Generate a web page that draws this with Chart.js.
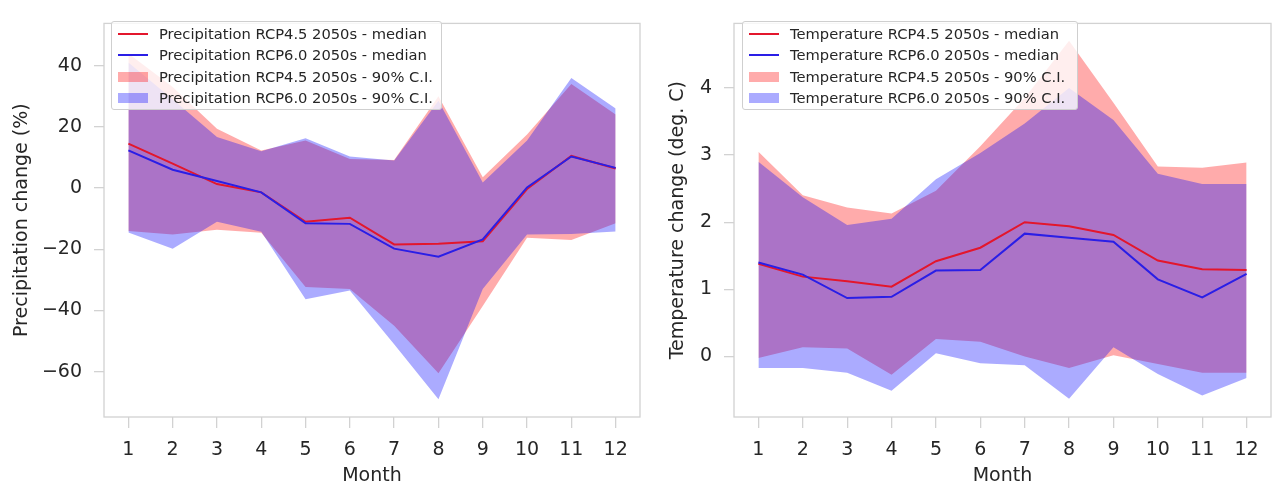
<!DOCTYPE html>
<html>
<head>
<meta charset="utf-8">
<script src="https://cdn.jsdelivr.net/npm/chart.js@4.4.0/dist/chart.umd.min.js"></script>
<style>
  html, body { margin: 0; padding: 0; background: #fff; }
  body { width: 1273px; height: 485px; position: relative; overflow: hidden; font-family: "DejaVu Sans", sans-serif; }
  canvas { position: absolute; top: 0; }
  #precipChart { left: 0; }
  #tempChart { left: 642px; }
  .legend { position: absolute; top: 21px; height: 89px; box-sizing: border-box; background: rgba(255,255,255,0.8);
            border: 1px solid #cfcfcf; border-radius: 3px; font-size: 14.7px; color: #262626; padding-top: 1px; }
  .legend .row { position: relative; height: 21.4px; line-height: 21.4px; padding-left: 47px; white-space: nowrap; }
  .legend .handle { position: absolute; left: 6px; width: 30px; }
</style>
</head>
<body>
<canvas id="precipChart" width="642" height="485"></canvas>
<canvas id="tempChart" width="631" height="485"></canvas>
<div class="legend" id="precipLegend" style="left:111px;width:331px"></div>
<div class="legend" id="tempLegend" style="left:742px;width:336px"></div>
<script>
const months = [1, 2, 3, 4, 5, 6, 7, 8, 9, 10, 11, 12];

// precipitation change (%)
const precip45Median = [14.5, 8, 1.3, -1.4, -11, -9.7, -18.4, -18.2, -17.4, -0.3, 10.5, 6.4];
const precip60Median = [12.3, 6, 2.3, -1.4, -11.5, -11.7, -19.8, -22.4, -16.8, 0.2, 10.3, 6.6];
const precip45Upper = [44, 33, 19.4, 12.3, 15.5, 9.5, 9.2, 30, 3.5, 17.5, 34, 24];
const precip45Lower = [-14, -15.2, -13.6, -14.6, -32.3, -33, -45, -60.5, -38.5, -16.2, -17, -11.5];
const precip60Upper = [41, 29, 16.7, 12, 16.3, 10.3, 9, 28.5, 1.8, 15.5, 36, 26];
const precip60Lower = [-14.5, -19.8, -11, -14.3, -36.3, -33.5, -51, -69, -33, -15.2, -15, -14.2];
const precipTicks = [-60, -40, -20, 0, 20, 40];

// temperature change (deg. C)
const temp45Median = [1.38, 1.19, 1.12, 1.04, 1.42, 1.62, 2.0, 1.94, 1.81, 1.43, 1.30, 1.29];
const temp60Median = [1.40, 1.22, 0.87, 0.89, 1.28, 1.29, 1.83, 1.77, 1.71, 1.15, 0.88, 1.23];
const temp45Upper = [3.05, 2.4, 2.22, 2.13, 2.47, 3.13, 3.85, 4.7, 3.78, 2.83, 2.81, 2.89];
const temp45Lower = [-0.02, 0.14, 0.12, -0.27, 0.26, 0.22, 0.0, -0.17, 0.02, -0.11, -0.24, -0.24];
const temp60Upper = [2.9, 2.37, 1.96, 2.05, 2.64, 3.03, 3.47, 4.0, 3.52, 2.72, 2.57, 2.57];
const temp60Lower = [-0.17, -0.17, -0.24, -0.51, 0.05, -0.1, -0.13, -0.63, 0.14, -0.26, -0.58, -0.32];
const tempTicks = [0, 1, 2, 3, 4];

const precipLabels = ['Precipitation RCP4.5 2050s - median', 'Precipitation RCP6.0 2050s - median',
                      'Precipitation RCP4.5 2050s - 90% C.I.', 'Precipitation RCP6.0 2050s - 90% C.I.'];
const tempLabels = ['Temperature RCP4.5 2050s - median', 'Temperature RCP6.0 2050s - median',
                    'Temperature RCP4.5 2050s - 90% C.I.', 'Temperature RCP6.0 2050s - 90% C.I.'];

const redLine = '#e3162c';
const blueLine = '#2a1ee6';
const redFill = 'rgba(255,0,0,0.33)';
const blueFill = 'rgba(0,0,255,0.33)';
const textColor = '#262626';
const spineColor = '#d2d2d2';
const fontFamily = '"DejaVu Sans", sans-serif';

const toPoints = vals => vals.map((v, i) => ({ x: months[i], y: v }));
const minusFormat = v => (v < 0 ? '\u2212' + Math.abs(v) : String(v));

const frame = {
    id: 'frame',
    beforeDatasetsDraw(chart) {
        const { ctx, chartArea: a } = chart;
        ctx.save();
        ctx.strokeStyle = spineColor;
        ctx.lineWidth = 1.3;
        ctx.strokeRect(a.left, a.top, a.right - a.left, a.bottom - a.top);
        ctx.restore();
    }
};

function lineSet(vals, color, order) {
    return { data: toPoints(vals), borderColor: color, borderWidth: 2, pointRadius: 0, tension: 0, fill: false, order: order };
}

function bandSets(lower, upper, color, order) {
    return [
        { data: toPoints(lower), borderColor: 'transparent', borderWidth: 0, pointRadius: 0, tension: 0, fill: false, order: 5 },
        { data: toPoints(upper), borderColor: 'transparent', borderWidth: 0, pointRadius: 0, tension: 0,
          fill: '-1', backgroundColor: color, order: order }
    ];
}

function makeChart(id, sets, yMin, yMax, yTicks, yTitle, axisWidth, titlePad) {
    return new Chart(document.getElementById(id), {
        type: 'line',
        data: {
            datasets: [
                lineSet(sets.med60, blueLine, 0),
                lineSet(sets.med45, redLine, 1),
                ...bandSets(sets.lo60, sets.hi60, blueFill, 2),
                ...bandSets(sets.lo45, sets.hi45, redFill, 3)
            ]
        },
        options: {
            responsive: false,
            animation: false,
            layout: { padding: { top: 14, right: 2, left: 0, bottom: 0 } },
            plugins: { legend: { display: false }, tooltip: { enabled: false } },
            scales: {
                x: {
                    type: 'linear', min: 0.45, max: 12.55,
                    afterBuildTicks: s => { s.ticks = months.map(v => ({ value: v })); },
                    afterFit: s => { s.height = 68; },
                    grid: { drawOnChartArea: false, drawTicks: true, tickLength: 11, color: spineColor, lineWidth: 1.3 },
                    border: { display: false },
                    ticks: { autoSkip: false, maxRotation: 0, color: textColor, padding: 11,
                             font: { family: fontFamily, size: 19 } },
                    title: { display: true, text: 'Month', color: textColor, padding: { top: 0, bottom: 0 },
                             font: { family: fontFamily, size: 19, lineHeight: 0.9 } }
                },
                y: {
                    type: 'linear', min: yMin, max: yMax,
                    afterBuildTicks: s => { s.ticks = yTicks.map(v => ({ value: v })); },
                    afterFit: s => { s.width = axisWidth; },
                    grid: { drawOnChartArea: false, drawTicks: true, tickLength: 10, color: spineColor, lineWidth: 1.3 },
                    border: { display: false },
                    ticks: { color: textColor, padding: 12, font: { family: fontFamily, size: 19 }, callback: minusFormat },
                    title: { display: true, text: yTitle, color: textColor, padding: { top: titlePad, bottom: 0 },
                             font: { family: fontFamily, size: 19, lineHeight: 1.2 } }
                }
            }
        },
        plugins: [frame]
    });
}

function buildLegend(id, labels) {
    const box = document.getElementById(id);
    const handles = [
        'top:10px;height:2px;background:' + redLine,
        'top:10px;height:1.5px;background:' + blueLine,
        'top:6px;height:10px;background:' + redFill,
        'top:6px;height:10px;background:' + blueFill
    ];
    labels.forEach((label, i) => {
        const row = document.createElement('div');
        row.className = 'row';
        row.innerHTML = '<span class="handle" style="' + handles[i] + '"></span>' + label;
        box.append(row);
    });
}

makeChart('precipChart', {
    med45: precip45Median, med60: precip60Median,
    hi45: precip45Upper, lo45: precip45Lower, hi60: precip60Upper, lo60: precip60Lower
}, -74.8, 53.8, precipTicks, 'Precipitation change (%)', 104, 10.6);

makeChart('tempChart', {
    med45: temp45Median, med60: temp60Median,
    hi45: temp45Upper, lo45: temp45Lower, hi60: temp60Upper, lo60: temp60Lower
}, -0.9, 4.96, tempTicks, 'Temperature change (deg. C)', 92, 24.6);

buildLegend('precipLegend', precipLabels);
buildLegend('tempLegend', tempLabels);
</script>
</body>
</html>
